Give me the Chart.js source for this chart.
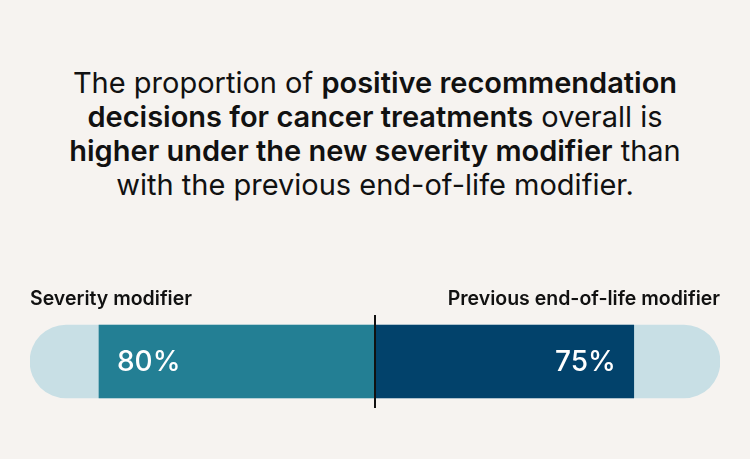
<!DOCTYPE html>
<html>
<head>
<meta charset="utf-8">
<script src="https://cdn.jsdelivr.net/npm/chart.js@4"></script>
<style>
  html, body { margin: 0; padding: 0; background: #f6f3f0; width: 750px; height: 459px; overflow: hidden; }
  #title {
    position: absolute; left: 0; top: 66px; width: 750px;
    text-align: center; font-family: Inter, sans-serif; font-size: 29px; line-height: 34px;
    color: #111; font-weight: 400;
  }
  #title b { font-weight: 600; }
  #wrap { position: absolute; left: 0; top: 270px; width: 750px; height: 160px; }
</style>
</head>
<body>
<div id="title">The proportion of <b>positive recommendation<br>decisions for cancer treatments</b> overall is<br><b>higher under the new severity modifier</b> than<br>with the previous end-of-life modifier.</div>
<div id="wrap"><canvas id="chart"></canvas></div>
<script>
// --- DATOS ---
const seriesLabels = ['Severity modifier', 'Previous end-of-life modifier'];
const seriesValues = [80, 75];
const trackRange = [-100, 100];
const colors = ['#237f94', '#02426b'];
const trackColor = '#c8dfe5';

// --- PLUGIN: línea central y etiquetas ---
const labelsPlugin = {
    id: 'labelsPlugin',
    afterDatasetsDraw(chart) {
        const ctx = chart.ctx;
        const x = chart.scales.x;
        const meta = chart.getDatasetMeta(1);
        const bar = meta.data[0];
        const top = bar.y - bar.height / 2;
        const bottom = bar.y + bar.height / 2;
        const zero = x.getPixelForValue(0);

        ctx.save();
        // línea central
        ctx.strokeStyle = '#111';
        ctx.lineWidth = 2;
        ctx.beginPath();
        ctx.moveTo(zero, top - 10);
        ctx.lineTo(zero, bottom + 10);
        ctx.stroke();

        // nombres de serie
        ctx.fillStyle = '#111';
        ctx.font = '600 19.5px Inter, sans-serif';
        ctx.textBaseline = 'alphabetic';
        ctx.textAlign = 'left';
        ctx.fillText(seriesLabels[0], x.getPixelForValue(trackRange[0]), top - 20);
        ctx.textAlign = 'right';
        ctx.fillText(seriesLabels[1], x.getPixelForValue(trackRange[1]), top - 20);

        // porcentajes
        ctx.fillStyle = '#fff';
        ctx.font = '500 28px Inter, sans-serif';
        ctx.textBaseline = 'middle';
        ctx.textAlign = 'left';
        ctx.fillText(seriesValues[0] + '%', x.getPixelForValue(-seriesValues[0]) + 18, bar.y + 1);
        ctx.textAlign = 'right';
        ctx.fillText(seriesValues[1] + '%', x.getPixelForValue(seriesValues[1]) - 18, bar.y + 1);
        ctx.restore();
    }
};

new Chart(document.getElementById('chart'), {
    type: 'bar',
    data: {
        labels: ['all'],
        datasets: [
            {
                data: [trackRange],
                backgroundColor: trackColor,
                borderRadius: 40,
                borderSkipped: false,
                barThickness: 73,
                order: 3
            },
            {
                data: [[-seriesValues[0], 0]],
                backgroundColor: colors[0],
                barThickness: 73,
                order: 2
            },
            {
                data: [[0, seriesValues[1]]],
                backgroundColor: colors[1],
                barThickness: 73,
                order: 1
            }
        ]
    },
    options: {
        indexAxis: 'y',
        responsive: true,
        maintainAspectRatio: false,
        animation: false,
        grouped: false,
        layout: { padding: { left: 30, right: 30, top: 43, bottom: 20 } },
        plugins: {
            legend: { display: false },
            tooltip: { enabled: false }
        },
        scales: {
            x: { min: trackRange[0], max: trackRange[1], display: false },
            y: { display: false }
        }
    },
    plugins: [labelsPlugin]
});
</script>
</body>
</html>
